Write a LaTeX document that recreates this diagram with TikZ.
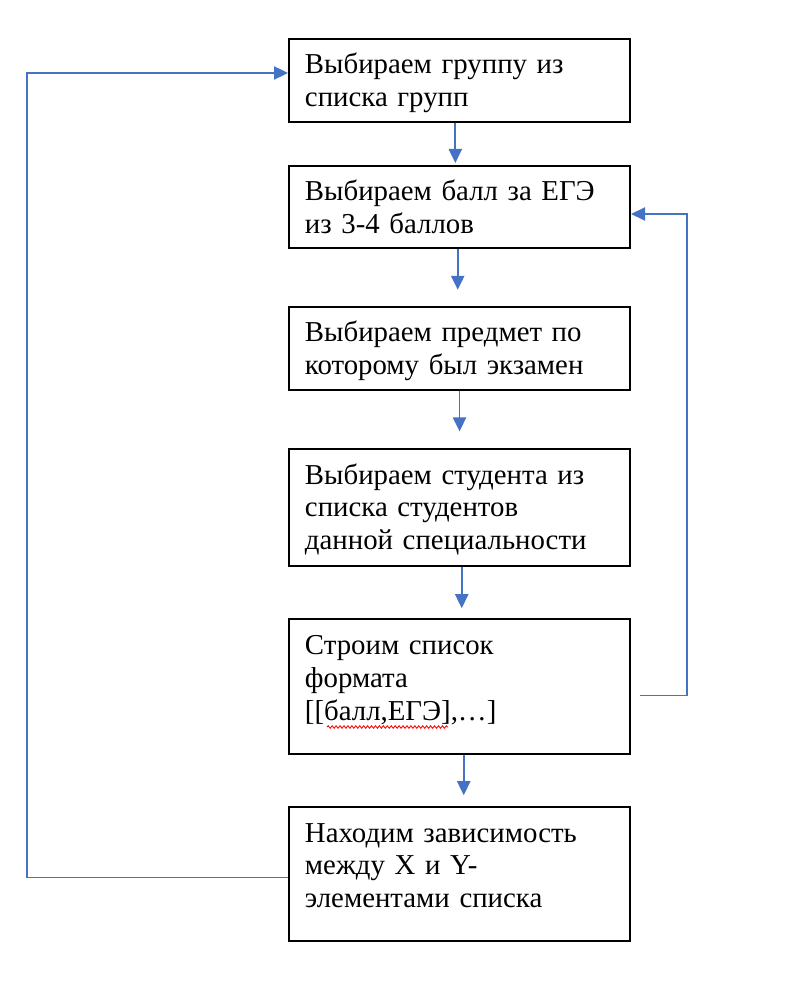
\documentclass[tikz,border=0pt]{standalone}
\usepackage{fontspec}
\setmainfont{Liberation Serif}
\usetikzlibrary{positioning, arrows.meta, decorations.pathmorphing}
\definecolor{wordblue}{HTML}{4472C4}
\tikzstyle{stepbox} = [rectangle, draw=black, line width=1.4pt, text width=7.725cm, inner xsep=0.4cm, inner ysep=0pt, text height=0.875cm, align=left, font=\fontsize{20.5pt}{23.4pt}\selectfont]
\tikzstyle{arrow} = [draw=wordblue, line width=1.2pt, -{Triangle[length=0.35cm, width=0.33cm]}]
\tikzstyle{spellmark} = [red, line width=0.6pt, decorate, decoration={snake, amplitude=0.9pt, segment length=2.8pt}]

\begin{document}
\begin{tikzpicture}[x=0.025cm, y=-0.025cm]
\useasboundingbox (0,0) rectangle (806,983);

\node (pickgroup) [stepbox, anchor=north west, text depth=1.19cm] at (288,38) {Выбираем группу из\\списка групп};
\node (pickscore) [stepbox, below=1.06cm of pickgroup, text depth=1.175cm] {Выбираем балл за ЕГЭ\\из 3-4 баллов};
\node (pickexam) [stepbox, below=1.42cm of pickscore, text depth=1.2cm] {Выбираем предмет по\\которому был экзамен};
\node (pickstudent) [stepbox, below=1.43cm of pickexam, text depth=2.05cm] {Выбираем студента из\\списка студентов\\данной специальности};
\node (buildlist) [stepbox, below=1.28cm of pickstudent, text depth=2.5cm] {Строим список\\формата\\{[}[балл,ЕГЭ],…]};
\node (findrel) [stepbox, below=1.27cm of buildlist, text depth=2.48cm] {Находим зависимость\\между X и Y-\\элементами списка};

% spell-check underline
\draw [spellmark] (327,727) -- (448,727);

\draw [arrow, shorten >=0.05cm] ([xshift=-0.105cm]pickgroup.south) -- ([xshift=-0.105cm]pickscore.north);
\draw [arrow, shorten >=0.4cm] ([xshift=-0.045cm]pickscore.south) -- ([xshift=-0.045cm]pickexam.north);
\draw [arrow, shorten >=0.415cm] (pickexam.south) -- (pickstudent.north);
\draw [arrow, shorten >=0.25cm] ([xshift=0.055cm]pickstudent.south) -- ([xshift=0.055cm]buildlist.north);
\draw [arrow, shorten >=0.27cm] ([xshift=0.105cm]buildlist.south) -- ([xshift=0.105cm]findrel.north);

% loops back
\coordinate (backleft) at (27,73);
\coordinate (backright) at (687,214);
\draw [arrow] ([yshift=-0.08cm]findrel.west) -| (backleft) -- (pickgroup.west |- backleft);
\draw [arrow] ([xshift=0.225cm, yshift=-0.22cm]buildlist.east) -| (backright) -- (pickscore.east |- backright);

\end{tikzpicture}
\end{document}
